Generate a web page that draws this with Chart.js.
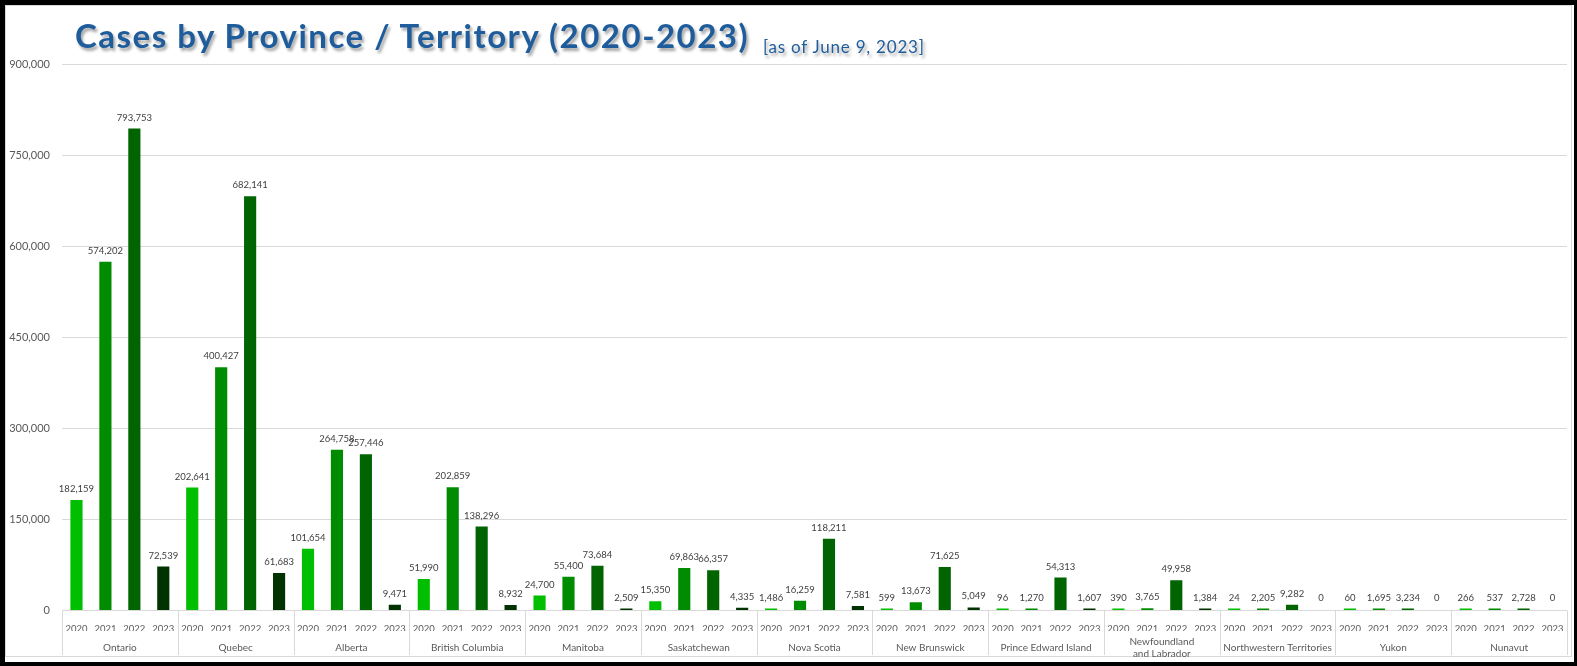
<!DOCTYPE html>
<html>
<head>
<meta charset="utf-8">
<script src="https://cdn.jsdelivr.net/npm/chart.js@4/dist/chart.umd.min.js"></script>
<style>
  html, body { margin: 0; padding: 0; background: #000; width: 1577px; height: 666px; overflow: hidden; }
  #frame { position: absolute; left: 5px; top: 5px; width: 1569px; height: 657px; background: #fff; }
  #edge { position: absolute; left: 5px; top: 5px; width: 1565px; height: 650px; border: 1px solid #d9d9d9; }
  #wrap { position: absolute; left: 0; top: 0; width: 1577px; height: 666px; }
  .title { position: absolute; color: #1f5c9c; font-family: Lato, sans-serif; line-height: 1; white-space: nowrap;
           text-shadow: 2px 3px 3px rgba(0,0,0,0.35); }
  #t1 { left: 75px; top: 19px; font-size: 33px; font-weight: bold; letter-spacing: 1.5px; }
  #t2 { left: 763px; top: 38px; font-size: 17px; letter-spacing: 0.8px; }
</style>
</head>
<body>
<div id="frame"></div>
<div id="edge"></div>
<div id="wrap"><canvas id="casesChart"></canvas></div>
<div class="title" id="t1">Cases by Province / Territory (2020-2023)</div>
<div class="title" id="t2">[as of June 9, 2023]</div>
<script>
  /* Data */
  var provinces = ['Ontario', 'Quebec', 'Alberta', 'British Columbia', 'Manitoba', 'Saskatchewan',
    'Nova Scotia', 'New Brunswick', 'Prince Edward Island', ['Newfoundland', 'and Labrador'],
    'Northwestern Territories', 'Yukon', 'Nunavut'];
  var years = ['2020', '2021', '2022', '2023'];
  var cases2020 = [182159, 202641, 101654, 51990, 24700, 15350, 1486, 599, 96, 390, 24, 60, 266];
  var cases2021 = [574202, 400427, 264758, 202859, 55400, 69863, 16259, 13673, 1270, 3765, 2205, 1695, 537];
  var cases2022 = [793753, 682141, 257446, 138296, 73684, 66357, 118211, 71625, 54313, 49958, 9282, 3234, 2728];
  var cases2023 = [72539, 61683, 9471, 8932, 2509, 4335, 7581, 5049, 1607, 1384, 0, 0, 0];
  var yMax = 900000;
  var yStep = 150000;

  var yearColors = ['#00bf00', '#008c00', '#006400', '#003300'];

  /* flatten province x year into one bar per slot */
  var byYear = [cases2020, cases2021, cases2022, cases2023];
  var labels = [], values = [], colors = [];
  provinces.forEach(function(p, i) {
    years.forEach(function(y, j) {
      labels.push(y);
      values.push(byYear[j][i]);
      colors.push(byYear[j][i] === 0 ? 'rgba(0,0,0,0)' : yearColors[j]);
    });
  });

  /* value labels above bars */
  var barLabels = {
    id: 'barLabels',
    afterDatasetsDraw: function(chart) {
      var ctx = chart.ctx;
      var meta = chart.getDatasetMeta(0);
      ctx.save();
      ctx.fillStyle = '#404040';
      ctx.font = '9.5px Lato, sans-serif';
      ctx.textAlign = 'center';
      ctx.textBaseline = 'middle';
      meta.data.forEach(function(el, i) {
        ctx.fillText(values[i].toLocaleString('en-US'), el.x, el.y - 11);
      });
      ctx.restore();
    }
  };

  /* group boxes under the axis */
  var groupLines = {
    id: 'groupLines',
    afterDraw: function(chart) {
      var xs = chart.scales.x, x2 = chart.scales.x2;
      var ctx = chart.ctx;
      var slot = xs.getPixelForValue(1) - xs.getPixelForValue(0);
      ctx.save();
      ctx.strokeStyle = '#d9d9d9';
      ctx.lineWidth = 1;
      ctx.beginPath();
      for (var g = 0; g <= provinces.length; g++) {
        var px = Math.round(xs.getPixelForValue(g * years.length) - slot / 2) + 0.5;
        ctx.moveTo(px, xs.top);
        ctx.lineTo(px, x2.top + 24);
      }
      ctx.stroke();
      ctx.restore();
    }
  };

  window.addEventListener('DOMContentLoaded', function () {
    var ctx = document.getElementById('casesChart').getContext('2d');
    new Chart(ctx, {
      type: 'bar',
      data: {
        labels: labels,
        datasets: [{
          data: values,
          backgroundColor: colors,
          borderWidth: 0,
          barPercentage: 0.42,
          categoryPercentage: 1,
          minBarLength: 2
        }]
      },
      options: {
        responsive: true,
        maintainAspectRatio: false,
        animation: false,
        layout: { padding: { left: 9, top: 64, right: 10, bottom: 5 } },
        plugins: {
          legend: { display: false },
          tooltip: { enabled: false },
          title: { display: false }
        },
        scales: {
          x: {
            weight: 0,
            grid: { display: false, drawTicks: false },
            border: { display: false },
            ticks: { autoSkip: false, maxRotation: 0, padding: 13, color: '#595959',
                      font: { family: 'Lato, sans-serif', size: 9.5 } },
            afterFit: function(s) { s.height = 20.5; }
          },
          x2: {
            type: 'category',
            labels: provinces,
            position: 'bottom',
            weight: 1,
            offset: true,
            grid: { display: false, drawTicks: false },
            border: { display: false },
            ticks: { autoSkip: false, maxRotation: 0, padding: 11, crossAlign: 'center', color: '#595959',
                      font: { family: 'Lato, sans-serif', size: 10, lineHeight: 1.2 } },
            afterFit: function(s) { s.height = 30; }
          },
          y: {
            min: 0,
            max: yMax,
            ticks: { stepSize: yStep, padding: 12, color: '#595959',
                     font: { family: 'Lato, sans-serif', size: 11 },
                     callback: function(v) { return v.toLocaleString('en-US'); } },
            grid: { color: '#d9d9d9', drawTicks: false },
            border: { display: false },
            afterFit: function(s) { s.width = 53; }
          }
        }
      },
      plugins: [barLabels, groupLines]
    });
  });
</script>
</body>
</html>
